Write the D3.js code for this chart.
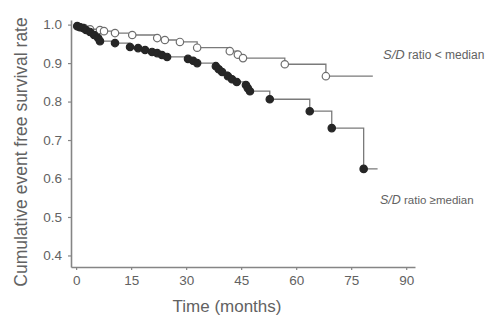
<!DOCTYPE html>
<html>
<head>
<meta charset="utf-8">
<script src="https://cdn.jsdelivr.net/npm/d3@7"></script>
<style>
  body { margin: 0; background: #fff; }
  svg { display: block; font-family: "Liberation Sans", Arial, sans-serif; }
</style>
</head>
<body>
<div id="chart"></div>
<script>
// Kaplan-Meier style step data (time in months, survival after event)
const xTicks = [0, 15, 30, 45, 60, 75, 90];
const yTicks = [0.4, 0.5, 0.6, 0.7, 0.8, 0.9, 1.0];

// S/D ratio < median (open circles)
const lowTimes = [0.8, 2.2, 3.8, 6.5, 7.6, 10.6, 15.3, 22.1, 24.2, 28.3, 33.0, 41.9, 44.1, 45.5, 56.9, 68.1];
const lowSurv  = [0.994, 0.991, 0.988, 0.986, 0.983, 0.978, 0.973, 0.965, 0.960, 0.955, 0.940, 0.931, 0.922, 0.913, 0.897, 0.866];
const lowEnd = 80.9;

// S/D ratio >= median (filled circles)
const highTimes = [0.3, 1.1, 1.9, 2.7, 3.8, 4.9, 6.0, 6.5, 10.6, 14.7, 16.9, 18.8, 20.7, 22.1, 23.4, 24.8,
                   30.5, 31.9, 33.0, 38.1, 38.9, 39.8, 41.4, 42.5, 43.8, 46.3, 46.8, 47.4, 52.8, 63.7, 69.7, 78.4];
const highSurv  = [0.996, 0.993, 0.991, 0.986, 0.981, 0.973, 0.965, 0.957, 0.952, 0.942, 0.939, 0.934, 0.929, 0.926, 0.921, 0.916,
                   0.911, 0.906, 0.900, 0.892, 0.884, 0.877, 0.866, 0.858, 0.851, 0.843, 0.835, 0.827, 0.806, 0.775, 0.731, 0.625];
const highEnd = 82.2;

const width = 498;
const height = 321;

const svg = d3.select('#chart')
  .append('svg')
  .attr('width', width)
  .attr('height', height);

// scales
const x = d3.scaleLinear().domain([-1.4, 92.4]).range([71, 415]);
const y = d3.scaleLinear().domain([0.37, 1.012]).range([267, 20]);

const axisColor = '#858585';
const textColor = '#626262';

// x axis
const xAxis = svg.append('g')
  .attr('transform', 'translate(0,267)')
  .call(d3.axisBottom(x).tickValues(xTicks).tickSize(3).tickSizeOuter(0).tickPadding(5));
xAxis.select('.domain').attr('stroke', axisColor).attr('stroke-width', 1.6);
xAxis.selectAll('.tick line').attr('stroke', axisColor).attr('stroke-width', 1.2);
xAxis.selectAll('text')
  .attr('fill', textColor)
  .style('font-size', '13.5px')
  .style('font-family', '"Liberation Sans", Arial, sans-serif');

// y axis
const yAxis = svg.append('g')
  .attr('transform', 'translate(71,0)')
  .call(d3.axisLeft(y).tickValues(yTicks).tickFormat(d3.format('.1f')).tickSize(3).tickSizeOuter(0).tickPadding(6));
yAxis.select('.domain').attr('stroke', axisColor).attr('stroke-width', 1.6);
yAxis.selectAll('.tick line').attr('stroke', axisColor).attr('stroke-width', 1.2);
yAxis.selectAll('text')
  .attr('fill', textColor)
  .style('font-size', '13.5px')
  .style('font-family', '"Liberation Sans", Arial, sans-serif');

// axis titles
svg.append('text')
  .attr('x', 227)
  .attr('y', 312)
  .attr('text-anchor', 'middle')
  .attr('fill', textColor)
  .style('font-size', '17px')
  .text('Time (months)');

svg.append('text')
  .attr('transform', 'translate(27,152) rotate(-90)')
  .attr('text-anchor', 'middle')
  .attr('fill', textColor)
  .style('font-size', '17.5px')
  .text('Cumulative event free survival rate');

// step curves
const stepLine = d3.line()
  .x(d => x(d[0]))
  .y(d => y(d[1]))
  .curve(d3.curveStepAfter);

function drawGroup(times, surv, endTime, filled) {
  const pts = [[0, 1]].concat(times.map((t, i) => [t, surv[i]]));
  pts.push([endTime, surv[surv.length - 1]]);

  svg.append('path')
    .datum(pts)
    .attr('d', stepLine)
    .attr('fill', 'none')
    .attr('stroke', '#7a7a7a')
    .attr('stroke-width', 1.3);

  svg.append('g')
    .selectAll('circle')
    .data(times.map((t, i) => [t, surv[i]]))
    .join('circle')
    .attr('cx', d => x(d[0]))
    .attr('cy', d => y(d[1]))
    .attr('r', 3.7)
    .attr('fill', filled ? '#262626' : '#fff')
    .attr('stroke', filled ? '#262626' : '#6e6e6e')
    .attr('stroke-width', 1.2);
}

drawGroup(lowTimes, lowSurv, lowEnd, false);
drawGroup(highTimes, highSurv, highEnd, true);

// curve labels
const lab1 = svg.append('text')
  .attr('x', 383)
  .attr('y', 59)
  .attr('fill', textColor)
  .style('font-size', '12px');
lab1.append('tspan').style('font-style', 'italic').style('font-size', '13px').text('S/D');
lab1.append('tspan').text(' ratio < median');

const lab2 = svg.append('text')
  .attr('x', 380)
  .attr('y', 204)
  .attr('fill', textColor)
  .style('font-size', '11.5px');
lab2.append('tspan').style('font-style', 'italic').style('font-size', '12.5px').text('S/D');
lab2.append('tspan').text(' ratio \u2265median');
</script>
</body>
</html>
